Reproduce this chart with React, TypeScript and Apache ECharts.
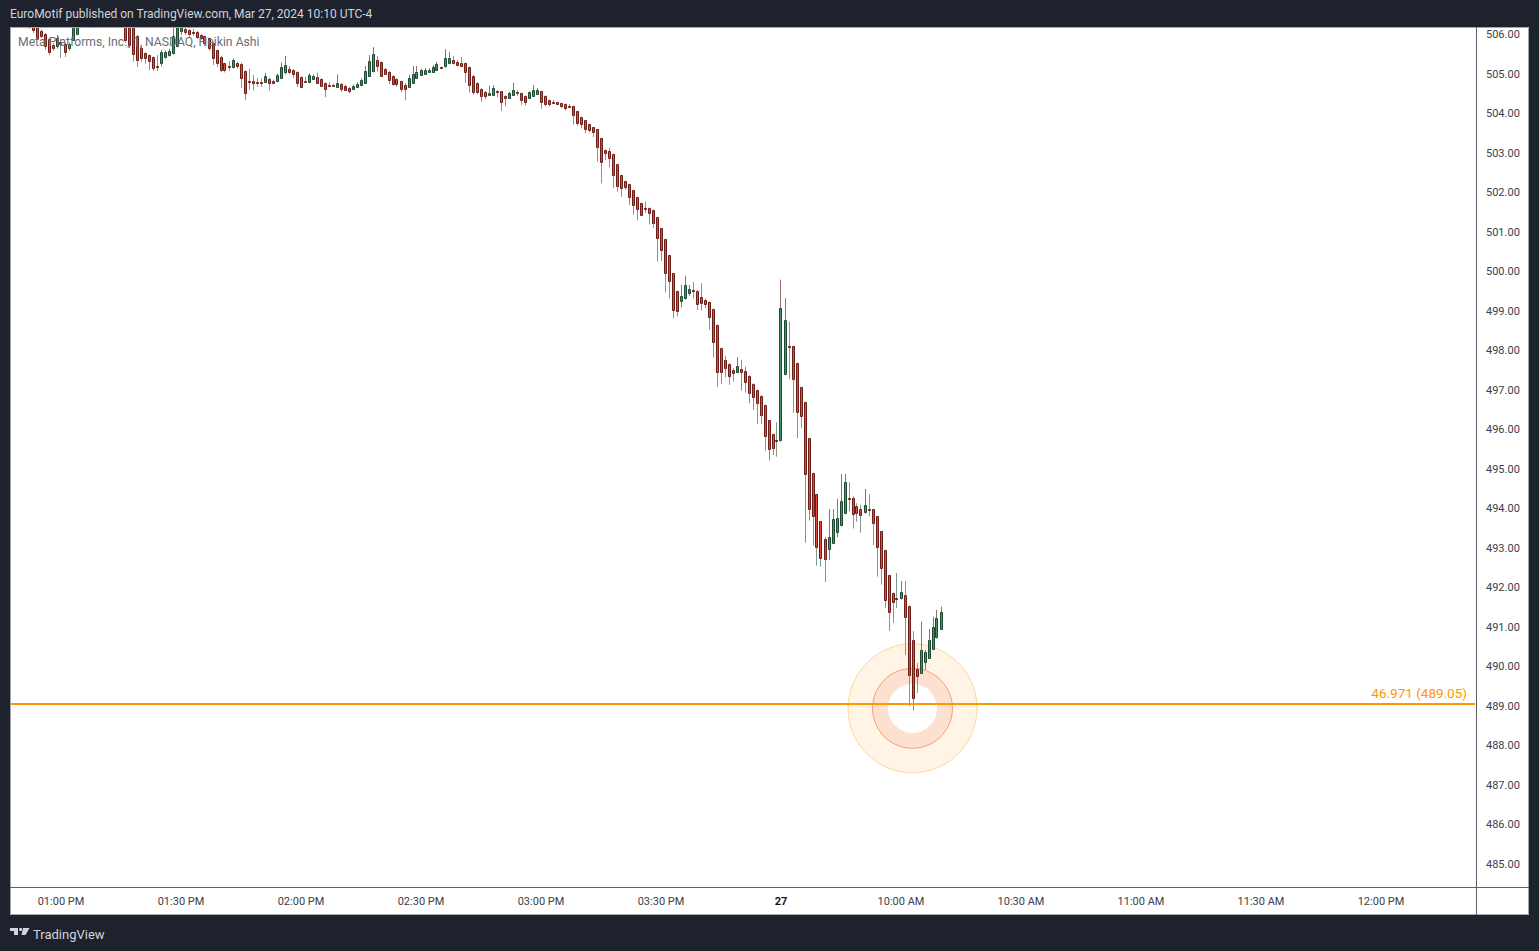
import React, { useEffect, useRef } from 'react';
import * as echarts from 'echarts';

// ---- Heikin Ashi candles (1-minute) ----
const haOpen = [
  506.90, 506.80, 506.70, 506.76, 506.65, 506.52, 506.32, 506.10, 506.03, 505.90,
  505.74, 505.71, 505.83, 505.78, 505.68, 505.87, 506.02, 506.30, 506.45, 506.62,
  506.53, 506.46, 506.58, 506.74, 506.87, 506.81, 506.70, 506.60, 506.45, 506.21,
  506.18, 505.98, 505.67, 505.54, 505.49, 505.44, 505.21, 505.28, 505.44, 505.48,
  505.54, 505.73, 506.10, 506.15, 506.12, 506.08, 506.07, 506.00, 505.96, 505.92,
  505.79, 505.62, 505.45, 505.28, 505.22, 505.18, 505.28, 505.27, 505.08, 504.82,
  504.84, 504.81, 504.81, 504.80, 504.89, 504.84, 504.82, 504.90, 505.05, 505.14,
  505.10, 505.06, 504.93, 504.82, 504.81, 504.89, 504.93, 504.88, 504.78, 504.73,
  504.73, 504.69, 504.75, 504.71, 504.65, 504.63, 504.68, 504.73, 504.78, 504.97,
  505.09, 505.37, 505.31, 505.13, 505.07, 504.96, 504.88, 504.82, 504.73, 504.68,
  504.79, 504.90, 504.99, 505.01, 505.06, 505.07, 505.11, 505.18, 505.20, 505.28,
  505.37, 505.32, 505.30, 505.28, 505.18, 504.96, 504.78, 504.63, 504.56, 504.49,
  504.48, 504.57, 504.57, 504.45, 504.41, 504.49, 504.55, 504.52, 504.45, 504.39,
  504.46, 504.51, 504.57, 504.45, 504.35, 504.30, 504.30, 504.27, 504.25, 504.20,
  504.20, 504.07, 503.92, 503.84, 503.74, 503.66, 503.61, 503.39, 503.08, 503.07,
  502.98, 502.73, 502.45, 502.30, 502.22, 502.07, 501.89, 501.74, 501.62, 501.62,
  501.57, 501.38, 501.10, 500.83, 500.42, 499.96, 499.51, 499.27, 499.33, 499.47,
  499.53, 499.52, 499.36, 499.29, 499.23, 499.05, 498.66, 498.06, 497.77, 497.66,
  497.52, 497.46, 497.54, 497.49, 497.36, 497.16, 497.01, 496.86, 496.63, 496.24,
  495.89, 495.73, 495.73, 497.41, 498.11, 498.12, 497.69, 497.08, 496.70, 495.79,
  494.90, 494.37, 493.68, 493.23, 492.97, 493.13, 493.42, 493.58, 493.89, 494.27,
  494.27, 494.06, 493.99, 493.91, 493.99, 493.99, 493.81, 493.43, 492.95, 492.32,
  491.86, 491.75, 491.73, 491.82, 491.54, 490.68, 489.93, 489.85, 490.13, 490.23,
  490.46, 490.74, 490.96,
];

const haClose = [
  506.70, 506.60, 506.82, 506.55, 506.40, 506.13, 505.92, 505.97, 505.73, 505.56,
  505.68, 505.93, 505.76, 505.56, 505.76, 506.17, 506.35, 506.60, 506.80, 506.45,
  506.40, 506.70, 506.90, 507.00, 506.75, 506.60, 506.50, 506.35, 505.87, 505.75,
  505.52, 505.37, 505.42, 505.42, 505.34, 505.16, 505.18, 505.56, 505.57, 505.60,
  505.96, 506.19, 506.25, 506.08, 506.02, 506.07, 505.94, 505.93, 505.79, 505.66,
  505.41, 505.28, 505.11, 505.10, 505.18, 505.37, 505.22, 504.90, 504.54, 504.81,
  504.77, 504.80, 504.80, 504.96, 504.79, 504.79, 504.99, 505.18, 505.23, 505.05,
  505.01, 504.79, 504.69, 504.81, 504.99, 504.96, 504.79, 504.71, 504.63, 504.72,
  504.72, 504.78, 504.63, 504.61, 504.59, 504.71, 504.76, 504.86, 505.09, 505.34,
  505.52, 505.22, 504.96, 505.01, 504.86, 504.75, 504.76, 504.63, 504.63, 504.90,
  505.01, 505.07, 505.10, 505.11, 505.11, 505.18, 505.27, 505.16, 505.41, 505.41,
  505.28, 505.24, 505.22, 505.05, 504.73, 504.56, 504.56, 504.44, 504.44, 504.54,
  504.65, 504.56, 504.29, 504.41, 504.54, 504.61, 504.54, 504.35, 504.31, 504.55,
  504.61, 504.61, 504.31, 504.25, 504.25, 504.29, 504.25, 504.21, 504.16, 504.19,
  503.96, 503.76, 503.74, 503.62, 503.59, 503.54, 503.16, 502.77, 503.00, 502.88,
  502.46, 502.18, 502.11, 502.16, 501.90, 501.70, 501.60, 501.45, 501.61, 501.50,
  501.23, 500.85, 500.54, 499.98, 499.76, 499.04, 499.02, 499.39, 499.67, 499.56,
  499.52, 499.18, 499.22, 499.18, 498.85, 498.23, 497.47, 497.47, 497.56, 497.35,
  497.43, 497.61, 497.46, 497.22, 496.93, 496.84, 496.69, 496.38, 495.85, 495.52,
  495.53, 495.72, 499.08, 498.78, 498.10, 497.28, 496.46, 496.34, 494.87, 494.00,
  493.82, 493.02, 492.76, 492.72, 493.28, 493.73, 493.76, 494.19, 494.67, 494.26,
  493.86, 493.89, 493.83, 494.09, 493.98, 493.63, 493.04, 492.49, 491.69, 491.38,
  491.65, 491.74, 491.89, 491.25, 489.79, 489.20, 489.77, 490.42, 490.37, 490.68,
  491.01, 491.23, 491.39,
];

const haLow = [
  506.60, 506.50, 506.60, 506.45, 506.15, 506.05, 505.87, 505.92, 505.62, 505.48,
  505.60, 505.65, 505.42, 505.44, 505.60, 505.85, 506.00, 506.25, 506.40, 506.18,
  506.17, 506.40, 506.50, 506.70, 506.60, 506.50, 506.40, 506.28, 505.80, 505.67,
  505.32, 505.19, 505.32, 505.27, 505.11, 505.09, 505.09, 505.20, 505.40, 505.45,
  505.50, 505.70, 506.00, 506.00, 505.95, 505.98, 505.90, 505.88, 505.72, 505.60,
  505.24, 505.19, 505.06, 505.05, 505.09, 505.15, 505.15, 504.66, 504.35, 504.61,
  504.59, 504.69, 504.68, 504.78, 504.59, 504.76, 504.80, 504.88, 505.00, 505.00,
  504.91, 504.68, 504.65, 504.79, 504.79, 504.86, 504.78, 504.68, 504.42, 504.68,
  504.69, 504.66, 504.56, 504.58, 504.52, 504.60, 504.66, 504.70, 504.76, 504.93,
  505.05, 505.07, 504.95, 504.98, 504.76, 504.71, 504.68, 504.56, 504.34, 504.65,
  504.77, 504.88, 504.97, 504.99, 505.04, 505.05, 505.09, 505.13, 505.17, 505.25,
  505.25, 505.20, 505.18, 504.79, 504.54, 504.48, 504.50, 504.31, 504.37, 504.47,
  504.46, 504.42, 504.08, 504.19, 504.39, 504.47, 504.46, 504.23, 504.21, 504.37,
  504.44, 504.49, 504.13, 504.19, 504.19, 504.25, 504.22, 504.14, 504.08, 504.17,
  503.73, 503.70, 503.63, 503.51, 503.53, 503.41, 502.79, 502.24, 502.83, 502.65,
  502.12, 502.03, 501.90, 502.07, 501.69, 501.45, 501.30, 501.42, 501.49, 501.20,
  501.11, 500.26, 500.28, 499.48, 499.33, 498.82, 498.87, 499.10, 499.30, 499.39,
  499.33, 499.03, 499.02, 499.08, 498.53, 497.83, 497.09, 497.16, 497.33, 497.14,
  497.22, 497.43, 496.99, 496.94, 496.67, 496.50, 496.15, 496.15, 495.47, 495.22,
  495.36, 495.32, 495.70, 497.38, 497.29, 496.43, 495.79, 496.04, 493.14, 493.70,
  493.06, 492.56, 492.53, 492.15, 492.70, 493.10, 493.28, 493.55, 493.86, 493.93,
  493.50, 493.67, 493.39, 493.88, 493.80, 493.08, 492.28, 492.08, 491.49, 490.91,
  491.11, 491.48, 491.70, 490.30, 489.00, 488.89, 489.33, 489.82, 489.92, 490.20,
  490.43, 490.71, 490.93,
];

const haHigh = [
  507.00, 506.90, 506.90, 506.80, 506.70, 506.60, 506.35, 506.14, 506.05, 505.92,
  505.80, 506.00, 505.90, 505.80, 505.80, 506.28, 506.50, 506.70, 506.90, 506.80,
  506.60, 506.80, 507.00, 507.10, 506.95, 506.85, 506.75, 506.65, 506.50, 506.30,
  506.20, 506.00, 505.72, 505.56, 505.50, 505.45, 505.49, 505.62, 505.60, 505.65,
  506.18, 506.30, 506.35, 506.25, 506.14, 506.15, 506.10, 506.02, 505.98, 505.93,
  505.80, 505.63, 505.46, 505.29, 505.34, 505.41, 505.32, 505.30, 505.10, 505.14,
  504.99, 504.91, 504.89, 505.04, 504.92, 504.87, 505.02, 505.30, 505.47, 505.21,
  505.13, 505.08, 504.95, 504.94, 505.03, 505.00, 505.04, 504.90, 504.80, 504.80,
  504.76, 505.00, 504.78, 504.74, 504.68, 504.74, 504.80, 504.90, 505.21, 505.49,
  505.69, 505.47, 505.33, 505.16, 505.09, 504.98, 504.90, 504.84, 504.78, 504.99,
  505.21, 505.21, 505.14, 505.16, 505.15, 505.24, 505.32, 505.20, 505.64, 505.57,
  505.47, 505.36, 505.44, 505.30, 505.20, 504.98, 504.80, 504.65, 504.58, 504.71,
  504.73, 504.60, 504.58, 504.47, 504.56, 504.79, 504.61, 504.54, 504.47, 504.57,
  504.73, 504.65, 504.58, 504.47, 504.36, 504.35, 504.31, 504.28, 504.26, 504.25,
  504.21, 504.08, 503.93, 503.85, 503.75, 503.67, 503.62, 503.40, 503.10, 503.14,
  502.99, 502.74, 502.46, 502.31, 502.23, 502.08, 501.90, 501.75, 501.78, 501.63,
  501.58, 501.39, 501.11, 500.84, 500.43, 499.97, 499.52, 499.67, 499.90, 499.67,
  499.74, 499.54, 499.71, 499.33, 499.25, 499.07, 498.67, 498.08, 497.87, 497.68,
  497.55, 497.84, 497.77, 497.60, 497.38, 497.18, 497.02, 496.87, 496.64, 496.25,
  495.90, 496.19, 499.80, 499.33, 498.74, 498.13, 497.70, 497.09, 496.71, 495.80,
  494.91, 494.38, 493.69, 493.29, 493.99, 493.99, 494.25, 494.88, 494.88, 494.67,
  494.32, 494.14, 494.10, 494.50, 494.37, 494.00, 493.82, 493.44, 492.96, 492.33,
  491.88, 492.37, 492.17, 492.17, 491.55, 490.90, 490.09, 491.14, 490.42, 490.95,
  491.27, 491.44, 491.52,
];

// ---- time axis: two sessions of 1-minute bars ----
const sessions = [
  { day: '1', startHour: 12, startMinute: 48, bars: 192 },
  { day: '2', startHour: 9, startMinute: 30, bars: 174 },
];
const categories: string[] = [];
sessions.forEach((s) => {
  for (let m = 0; m < s.bars; m++) {
    const t = s.startHour * 60 + s.startMinute + m;
    const hh = String(Math.floor(t / 60)).padStart(2, '0');
    const mm = String(t % 60).padStart(2, '0');
    categories.push(`${s.day} ${hh}:${mm}`);
  }
});

const tickCategories = ['1 13:00', '1 13:30', '1 14:00', '1 14:30', '1 15:00', '1 15:30', '2 09:30', '2 10:00', '2 10:30', '2 11:00', '2 11:30', '2 12:00'];
const tickTexts = ['01:00 PM', '01:30 PM', '02:00 PM', '02:30 PM', '03:00 PM', '03:30 PM', '27', '10:00 AM', '10:30 AM', '11:00 AM', '11:30 AM', '12:00 PM'];

const priceMin = 484.42;
const priceMax = 506.2;
const levelPrice = 489.05;
const levelLabel = '46.971 (489.05)';

const titleText = 'EuroMotif published on TradingView.com, Mar 27, 2024 10:10 UTC-4';
const legendText = 'Meta Platforms, Inc., 1, NASDAQ, Heikin Ashi';

const FONT = 'Roboto, "Noto Sans", "DejaVu Sans", sans-serif';
const DARK = '#1e222d';
const UP_FILL = '#3f9468';
const UP_BORDER = '#1c4a33';
const DOWN_FILL = '#e0483a';
const DOWN_BORDER = '#6e1e16';
const WICK_UP = '#9a6b6b';
const WICK_DOWN = '#7f9a8d';

export default function App() {
  const ref = useRef<HTMLDivElement>(null);

  useEffect(() => {
    if (!ref.current) return;
    const chart = echarts.init(ref.current, undefined, { renderer: 'svg' });
    const tickMap = new Map<string, string>();
    tickCategories.forEach((c, i) => tickMap.set(c, tickTexts[i]));

    const data = haOpen.map((o, i) => [i, o, haClose[i], haLow[i], haHigh[i]]);

    const option: any = {
      animation: false,
      backgroundColor: '#ffffff',
      grid: { left: 11, top: 27, width: 1464, height: 860, containLabel: false, outerBoundsMode: 'none' },
      xAxis: {
        type: 'category',
        data: categories,
        boundaryGap: true,
        axisLine: { show: false },
        axisTick: { show: false },
        splitLine: { show: false },
        axisLabel: {
          interval: (_index: number, value: string) => tickMap.has(value),
          formatter: (value: string) => {
            const t = tickMap.get(value);
            if (!t) return '';
            return t === '27' ? '{b|27}' : t;
          },
          color: '#3d404b',
          fontSize: 11,
          fontFamily: FONT,
          margin: 9,
          rich: { b: { fontWeight: 'bold', fontSize: 11, color: '#131722', fontFamily: FONT } },
        },
      },
      yAxis: {
        type: 'value',
        position: 'right',
        min: priceMin,
        max: priceMax,
        splitNumber: 22,
        minInterval: 1,
        maxInterval: 1,
        axisLine: { show: false },
        axisTick: { show: false },
        splitLine: { show: false },
        axisLabel: {
          margin: 11,
          color: '#3d404b',
          fontSize: 11,
          fontFamily: FONT,
          showMinLabel: false,
          showMaxLabel: false,
          formatter: (v: number) => (Math.abs(v - Math.round(v)) < 1e-6 ? v.toFixed(2) : ''),
        },
      },
      series: [
        {
          type: 'custom',
          clip: true,
          z: 3,
          encode: { x: 0, y: [1, 2, 3, 4] },
          data,
          renderItem: (_params: any, api: any) => {
            const i = api.value(0);
            const o = api.value(1);
            const c = api.value(2);
            const l = api.value(3);
            const h = api.value(4);
            const pO = api.coord([i, o]);
            const pC = api.coord([i, c]);
            const pL = api.coord([i, l]);
            const pH = api.coord([i, h]);
            const cx = Math.floor(pO[0]);
            const up = c > o;
            const yTop = Math.round(Math.min(pO[1], pC[1]));
            const yBot = Math.round(Math.max(pO[1], pC[1]));
            const hgt = Math.max(1, yBot - yTop);
            return {
              type: 'group',
              children: [
                {
                  type: 'line',
                  shape: { x1: cx + 0.5, y1: pH[1], x2: cx + 0.5, y2: pL[1] },
                  style: { stroke: up ? WICK_UP : WICK_DOWN, lineWidth: 1 },
                },
                {
                  type: 'rect',
                  shape: { x: cx - 0.5, y: yTop + 0.5, width: 2, height: hgt },
                  style: { fill: up ? UP_FILL : DOWN_FILL, stroke: up ? UP_BORDER : DOWN_BORDER, lineWidth: 1 },
                },
              ],
            };
          },
          markLine: {
            silent: true,
            symbol: ['none', 'none'],
            lineStyle: { color: '#ff9800', width: 2, type: 'solid' },
            label: {
              show: true,
              position: 'insideEndTop',
              formatter: levelLabel,
              color: '#ff9800',
              fontSize: 13.5,
              fontFamily: FONT,
              distance: [8, 4],
            },
            data: [{ yAxis: levelPrice }],
          },
        },
      ],
      graphic: [
        // highlight circles (annotation)
        { type: 'circle', z: 1, shape: { cx: 912.5, cy: 708.3, r: 64.5 }, style: { fill: 'rgba(255,152,0,0.1)', stroke: 'rgba(255,152,0,0.35)', lineWidth: 1 } },
        { type: 'circle', z: 1, shape: { cx: 912.5, cy: 708.3, r: 40 }, style: { fill: 'rgba(242,90,60,0.12)', stroke: 'rgba(236,110,60,0.6)', lineWidth: 1 } },
        { type: 'circle', z: 1, shape: { cx: 912.5, cy: 708.3, r: 24.5 }, style: { fill: '#ffffff' } },
        // dark frame
        { type: 'rect', z: 100, shape: { x: 0, y: 0, width: 1539, height: 27 }, style: { fill: DARK } },
        { type: 'rect', z: 100, shape: { x: 0, y: 0, width: 10, height: 951 }, style: { fill: DARK } },
        { type: 'rect', z: 100, shape: { x: 1529, y: 0, width: 10, height: 951 }, style: { fill: DARK } },
        { type: 'rect', z: 100, shape: { x: 0, y: 915, width: 1539, height: 36 }, style: { fill: DARK } },
        { type: 'rect', z: 101, shape: { x: 10.5, y: 27.5, width: 1518, height: 887 }, style: { fill: 'none', stroke: '#a3a6af', lineWidth: 1 } },
        { type: 'line', z: 101, shape: { x1: 1476.5, y1: 27, x2: 1476.5, y2: 915 }, style: { stroke: '#5d606b', lineWidth: 1 } },
        { type: 'line', z: 101, shape: { x1: 10, y1: 887.5, x2: 1529, y2: 887.5 }, style: { stroke: '#5d606b', lineWidth: 1 } },
        // texts
        { type: 'text', z: 102, x: 10, y: 14, style: { text: titleText, fill: '#d1d4dc', font: `12px ${FONT}`, textAlign: 'left', textVerticalAlign: 'middle', align: 'left', verticalAlign: 'middle' } },
        { type: 'text', z: 102, x: 18, y: 42, style: { text: legendText, fill: '#6a6d78', font: `12.2px ${FONT}`, textAlign: 'left', textVerticalAlign: 'middle', align: 'left', verticalAlign: 'middle' } },
        // TradingView footer logo
        { type: 'rect', z: 102, shape: { x: 10, y: 928, width: 8, height: 3 }, style: { fill: '#d1d4dc' } },
        { type: 'rect', z: 102, shape: { x: 14, y: 928, width: 4, height: 7 }, style: { fill: '#d1d4dc' } },
        { type: 'circle', z: 102, shape: { cx: 20.6, cy: 929.5, r: 1.6 }, style: { fill: '#d1d4dc' } },
        { type: 'polygon', z: 102, shape: { points: [[23, 928], [29.5, 928], [25.5, 935], [21.5, 935]] }, style: { fill: '#d1d4dc' } },
        { type: 'text', z: 102, x: 33, y: 934, style: { text: 'TradingView', fill: '#d1d4dc', font: `13px ${FONT}`, textAlign: 'left', textVerticalAlign: 'middle', align: 'left', verticalAlign: 'middle' } },
      ],
    };

    chart.setOption(option);
    return () => chart.dispose();
  }, []);

  return <div ref={ref} style={{ position: 'fixed', left: 0, top: 0, width: 1539, height: 951 }} />;
}
